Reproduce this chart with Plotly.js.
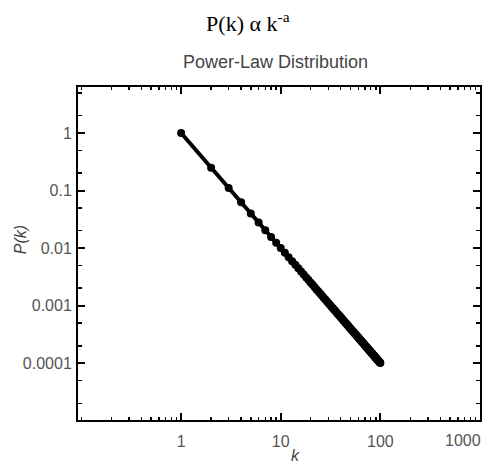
<!DOCTYPE html>
<html>
<head>
<meta charset="utf-8">
<script src="https://cdn.plot.ly/plotly-3.0.1.min.js"></script>
<style>html,body{margin:0;padding:0;background:#fff;}#chart{width:484px;height:464px;}</style>
</head>
<body>
<div id="chart"></div>
<script>
const kValues = [1,2,3,4,5,6,7,8,9,10,11,12,13,14,15,16,17,18,19,20,21,22,23,24,25,26,27,28,29,30,31,32,33,34,35,36,37,38,39,40,41,42,43,44,45,46,47,48,49,50,51,52,53,54,55,56,57,58,59,60,61,62,63,64,65,66,67,68,69,70,71,72,73,74,75,76,77,78,79,80,81,82,83,84,85,86,87,88,89,90,91,92,93,94,95,96,97,98,99,100];
const pValues = [1,0.25,0.1111,0.0625,0.04,0.02778,0.02041,0.01563,0.01235,0.01,
0.008264,0.006944,0.005917,0.005102,0.004444,0.003906,0.00346,0.003086,0.00277,0.0025,
0.002268,0.002066,0.00189,0.001736,0.0016,0.001479,0.001372,0.001276,0.001189,0.001111,
0.001041,0.0009766,0.0009183,0.000865,0.0008163,0.0007716,0.0007305,0.0006925,0.0006575,0.000625,
0.0005949,0.0005669,0.0005408,0.0005165,0.0004938,0.0004726,0.0004527,0.000434,0.0004165,0.0004,
0.0003845,0.0003698,0.000356,0.0003429,0.0003306,0.0003189,0.0003078,0.0002973,0.0002873,0.0002778,
0.0002687,0.0002601,0.000252,0.0002441,0.0002367,0.0002296,0.0002228,0.0002163,0.00021,0.0002041,
0.0001984,0.0001929,0.0001876,0.0001826,0.0001778,0.0001731,0.0001687,0.0001644,0.0001602,0.0001563,
0.0001524,0.0001487,0.0001452,0.0001417,0.0001384,0.0001352,0.0001321,0.0001291,0.0001262,0.0001235,
0.0001208,0.0001182,0.0001157,0.0001132,0.0001108,0.0001085,0.0001063,0.0001041,0.000102,0.0001];
const xTickVals = [1,10,100,1000];
const xTickText = ["1","10","100","1000"];
const yTickVals = [1,0.1,0.01,0.001,0.0001];
const yTickText = ["1","0.1","0.01","0.001","0.0001"];

const trace = {
  x: kValues, y: pValues, type: 'scatter', mode: 'lines+markers',
  line: {color: '#000', width: 4},
  marker: {color: '#000', size: 8},
  hoverinfo: 'skip', showlegend: false
};
const sans = 'Liberation Sans, Arial, sans-serif';
const tickFont = {family: sans, size: 16, color: '#555'};
const last = xTickVals.length - 1;
// the last x tick label sits against the right edge (right-aligned to its tick)
const axisTickText = xTickText.map((t, i) => i === last ? '' : t);
const layout = {
  width: 484, height: 464,
  margin: {l: 78, r: 4, t: 87, b: 44},
  paper_bgcolor: '#fff', plot_bgcolor: '#fff',
  title: {
    text: 'P(k) α k<sup>-a</sup>',
    font: {family: 'Liberation Serif, Times New Roman, serif', size: 22, color: '#000'},
    xref: 'container', yref: 'container', x: 0.512, y: 0.949, xanchor: 'center', yanchor: 'middle'
  },
  annotations: [
    {text: 'Power-Law Distribution', xref: 'paper', yref: 'paper', x: 0.4925, y: 1.075,
     xanchor: 'center', yanchor: 'middle', showarrow: false,
     font: {family: sans, size: 18, color: '#444'}},
    {text: '<i>P(k)</i>', xref: 'paper', yref: 'paper', x: -0.144, y: 0.54, textangle: -90,
     xanchor: 'center', yanchor: 'middle', showarrow: false,
     font: {family: sans, size: 16, color: '#444'}},
    {text: '<i>k</i>', xref: 'paper', yref: 'paper', x: 0.54, y: -0.108,
     xanchor: 'center', yanchor: 'middle', showarrow: false,
     font: {family: sans, size: 16, color: '#444'}},
    {text: xTickText[last], xref: 'x', yref: 'paper', x: Math.log10(xTickVals[last]), y: -0.063,
     xanchor: 'right', yanchor: 'middle', xshift: 3, showarrow: false,
     font: tickFont}
  ],
  xaxis: {
    type: 'log', range: [-1.035, 3.0],
    tickmode: 'array', tickvals: xTickVals, ticktext: axisTickText,
    ticks: 'inside', ticklen: 7, tickwidth: 2, tickcolor: '#000',
    minor: {ticks: 'inside', ticklen: 3, tickwidth: 1.5, tickcolor: '#000', dtick: 'D1', showgrid: false},
    showline: true, linecolor: '#000', linewidth: 2, mirror: 'ticks',
    showgrid: false, zeroline: false, tickfont: tickFont, ticklabelstandoff: 6
  },
  yaxis: {
    type: 'log', range: [-4.99, 0.8],
    tickmode: 'array', tickvals: yTickVals, ticktext: yTickText,
    ticks: 'inside', ticklen: 7, tickwidth: 2, tickcolor: '#000',
    minor: {ticks: 'inside', ticklen: 4, tickwidth: 1.5, tickcolor: '#000', dtick: 'D2', showgrid: false},
    showline: true, linecolor: '#000', linewidth: 2, mirror: 'ticks',
    showgrid: false, zeroline: false, tickfont: tickFont, ticklabelstandoff: 1
  }
};
Plotly.newPlot('chart', [trace], layout, {staticPlot: true, displayModeBar: false});
</script>
</body>
</html>
